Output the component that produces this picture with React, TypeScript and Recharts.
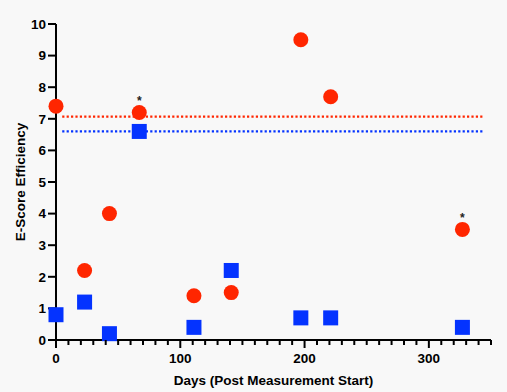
import { Label, ReferenceLine, Scatter, ScatterChart, XAxis, YAxis } from "recharts";

const days = [0, 23, 43, 67, 111, 141, 197, 221, 327];
const redValues = [7.4, 2.2, 4.0, 7.2, 1.4, 1.5, 9.5, 7.7, 3.5];
const blueValues = [0.8, 1.2, 0.2, 6.6, 0.4, 2.2, 0.7, 0.7, 0.4];
const redMarks = ["", "", "", "*", "", "", "", "", "*"];

const redThreshold = 7.07;
const blueThreshold = 6.6;
const thresholdSpan = [5, 344];

const xTicks = Array.from({ length: 36 }, (_, i) => i * 10);
const yTicks = [0, 1, 2, 3, 4, 5, 6, 7, 8, 9, 10];

const RED = "#ff2600";
const BLUE = "#0433ff";
const FONT = "'Liberation Sans', Arial, Helvetica, sans-serif";

const redData = days.map((x, i) => ({ x, y: redValues[i], mark: redMarks[i] }));
const blueData = days.map((x, i) => ({ x, y: blueValues[i] }));

function RedDot({ cx, cy, payload }: { cx?: number; cy?: number; payload?: { mark: string } }) {
  if (cx === undefined || cy === undefined) return null;
  return (
    <g>
      <circle cx={cx} cy={cy} r={7.5} fill={RED} />
      {payload?.mark ? (
        <text x={cx} y={cy - 7} textAnchor="middle" fontSize={12} fontWeight="bold" fontFamily={FONT} fill="#222">
          {payload.mark}
        </text>
      ) : null}
    </g>
  );
}

function BlueSquare({ cx, cy }: { cx?: number; cy?: number }) {
  if (cx === undefined || cy === undefined) return null;
  return <rect x={cx - 7.5} y={cy - 7.5} width={15} height={15} fill={BLUE} />;
}

function XTick({ x, y, payload }: { x?: number; y?: number; payload?: { value: number } }) {
  if (x === undefined || y === undefined || !payload) return null;
  const major = payload.value % 100 === 0;
  return (
    <g>
      <line x1={x} x2={x} y1={y} y2={y + (major ? 8 : 5)} stroke="#000" strokeWidth={2} />
      {major && (
        <text x={x} y={y + 23} textAnchor="middle" fontSize={13.5} fontWeight="bold" fontFamily={FONT} fill="#000">
          {payload.value}
        </text>
      )}
    </g>
  );
}

function YTitle({ viewBox }: { viewBox?: { x: number; y: number; width: number; height: number } }) {
  if (!viewBox) return null;
  const cy = viewBox.y + viewBox.height / 2;
  return (
    <text
      x={20}
      y={cy}
      transform={`rotate(-90, 20, ${cy})`}
      textAnchor="middle"
      dominantBaseline="central"
      fontSize={13.5}
      fontWeight="bold"
      fontFamily={FONT}
      fill="#000"
    >
      E-Score Efficiency
    </text>
  );
}

export default function App() {
  return (
    <div style={{ position: "absolute", left: 0, top: 0, width: 507, height: 392, background: "#f8f8f8" }}>
      <ScatterChart width={507} height={392} margin={{ top: 24, right: 16, bottom: 0, left: 0 }}>
        <XAxis
          type="number"
          dataKey="x"
          domain={[0, 350]}
          ticks={xTicks}
          interval={0}
          tickSize={0}
          tickMargin={0}
          tickLine={false}
          tick={<XTick />}
          axisLine={{ stroke: "#000", strokeWidth: 2 }}
          height={52}
        >
          <Label
            value="Days (Post Measurement Start)"
            position="insideBottom"
            offset={7}
            style={{ fontSize: 13.5, fontWeight: "bold", fontFamily: FONT, fill: "#000" }}
          />
        </XAxis>
        <YAxis
          type="number"
          dataKey="y"
          domain={[0, 10]}
          ticks={yTicks}
          interval={0}
          width={56}
          tickSize={8}
          tickMargin={2}
          tickLine={{ stroke: "#000", strokeWidth: 2 }}
          axisLine={{ stroke: "#000", strokeWidth: 2 }}
          tick={{ fill: "#000", fontSize: 13.5, fontWeight: "bold", fontFamily: FONT }}
        >
          <Label content={<YTitle />} />
        </YAxis>
        <ReferenceLine
          segment={[
            { x: thresholdSpan[0], y: redThreshold },
            { x: thresholdSpan[1], y: redThreshold },
          ]}
          stroke={RED}
          strokeWidth={2.2}
          strokeDasharray="2.2 2.2"
        />
        <ReferenceLine
          segment={[
            { x: thresholdSpan[0], y: blueThreshold },
            { x: thresholdSpan[1], y: blueThreshold },
          ]}
          stroke={BLUE}
          strokeWidth={2.2}
          strokeDasharray="2.2 2.2"
        />
        <Scatter data={blueData} shape={<BlueSquare />} isAnimationActive={false} />
        <Scatter data={redData} shape={<RedDot />} isAnimationActive={false} />
      </ScatterChart>
    </div>
  );
}
